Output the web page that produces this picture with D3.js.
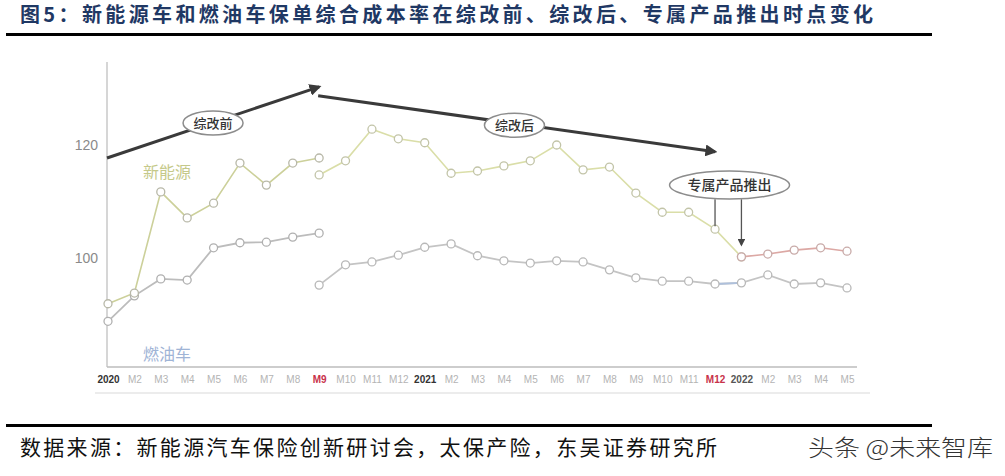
<!DOCTYPE html>
<html><head><meta charset="utf-8">
<script src="https://cdn.jsdelivr.net/npm/d3@7"></script>
<style>
html,body{margin:0;padding:0;background:#fff;}
svg{display:block;}
</style></head>
<body>
<svg id="c" width="1005" height="476"></svg>
<script>
// ---- data ----
const months = ["2020","M2","M3","M4","M5","M6","M7","M8","M9","M10","M11","M12",
                "2021","M2","M3","M4","M5","M6","M7","M8","M9","M10","M11","M12",
                "2022","M2","M3","M4","M5"];
const yTicks = [100, 120];
// 新能源: 综改前 (index 0-8), 综改后 (index 8-24), 专属产品推出后 (index 24-28)
const neBefore = [91.9, 93.8, 111.7, 107.1, 109.7, 116.8, 112.9, 116.8, 117.7];
const neAfter = [114.7, 117.2, 122.8, 121.1, 120.4, 115.0, 115.4, 116.3, 117.2, 120.0, 115.6, 116.1, 111.5, 108.1, 108.1, 105.1, 100.2];
const neExclusive = [100.2, 100.7, 101.4, 101.8, 101.2];
// 燃油车: 综改前 (index 0-8), 综改后 (index 8-28)
const fuelBefore = [88.8, 93.3, 96.3, 96.1, 101.8, 102.7, 102.8, 103.7, 104.4];
const fuelAfter = [95.2, 98.8, 99.3, 100.5, 101.9, 102.5, 100.4, 99.5, 99.1, 99.5, 99.3, 97.9, 96.5, 95.9, 95.9, 95.4, 95.6, 97.0, 95.4, 95.6, 94.7];
const startBefore = 0, startAfter = 8, startExclusive = 24;
const highlightIdx = {0:"year", 12:"year", 24:"year2", 8:"red", 23:"red"};

const titleText = "图5：新能源车和燃油车保单综合成本率在综改前、综改后、专属产品推出时点变化";
const sourceText = "数据来源：新能源汽车保险创新研讨会，太保产险，东吴证券研究所";
const watermark = "头条 @未来智库";

// annotations anchored in data space [index, value]
const arrowPre = [[0, 117.7], [8, 130.3]];
const arrowPost = [[8, 128.7], [23, 118.8]];
const labelPre = {text:"综改前", at:[3.98, 123.9], rx:30, ry:12};
const labelPost = {text:"综改后", at:[15.4, 123.5], rx:30, ry:12};
const labelExcl = {text:"专属产品推出", at:[23.55, 112.9], rx:60, ry:14};
const pointerLines = [{i:23, from:110.4, to:105.6, arrow:false}, {i:24, from:110.4, to:102.3, arrow:true}];

// ---- drawing ----
const svg = d3.select("#c");
const x = d3.scaleLinear().domain([0, 28]).range([108, 847]);
const y = d3.scaleLinear().domain([100, 120]).range([258, 145]);
const yBottom = 367, yTop = 62;

// title
svg.append("text").attr("x", 20).attr("y", 22)
  .attr("textLength", 853).attr("lengthAdjust", "spacing")
  .style("font-family", "'Noto Sans CJK SC', sans-serif").style("font-weight", 700)
  .style("font-size", "20px").style("fill", "#1f3864").text(titleText);
svg.append("rect").attr("x", 6).attr("y", 33).attr("width", 926).attr("height", 3).attr("fill", "#000");

// footer
svg.append("rect").attr("x", 6).attr("y", 424).attr("width", 926).attr("height", 3).attr("fill", "#000");
svg.append("text").attr("x", 20).attr("y", 455)
  .attr("textLength", 697).attr("lengthAdjust", "spacing")
  .style("font-family", "'Noto Sans CJK SC', sans-serif").style("font-weight", 400)
  .style("font-size", "21px").style("fill", "#111").text(sourceText);
svg.append("text").attr("x", 808).attr("y", 456)
  .attr("textLength", 185).attr("lengthAdjust", "spacingAndGlyphs")
  .style("font-family", "'Noto Sans CJK SC', sans-serif").style("font-weight", 300)
  .style("font-size", "23px").style("fill", "#333").text(watermark);

// axes
const g = svg.append("g");
g.append("line").attr("x1", x(0) - 1).attr("x2", x(0) - 1).attr("y1", yTop).attr("y2", yBottom)
  .attr("stroke", "#c8c8c8").attr("stroke-width", 1.5);
g.append("line").attr("x1", x(0) - 1).attr("x2", x(28) + 10).attr("y1", yBottom).attr("y2", yBottom)
  .attr("stroke", "#bdbdbd").attr("stroke-width", 1.5);
g.append("line").attr("x1", 95).attr("x2", 870).attr("y1", 393).attr("y2", 393)
  .attr("stroke", "#ececec").attr("stroke-width", 2);

const yAxis = d3.axisLeft(y).tickValues(yTicks).tickSize(0).tickPadding(0);
const ya = g.append("g").attr("transform", "translate(98,0)").call(yAxis);
ya.select(".domain").remove();
ya.selectAll("text").style("font-family", "'Liberation Sans', Arial, sans-serif")
  .style("font-size", "14px").style("fill", "#8a8a8a");

const xAxis = d3.axisBottom(x).tickValues(d3.range(months.length)).tickFormat(i => months[i]).tickSize(0).tickPadding(0);
const xa = g.append("g").attr("transform", `translate(0,${yBottom + 9})`).call(xAxis);
xa.select(".domain").remove();
xa.selectAll("text")
  .style("font-family", "'Liberation Sans', Arial, sans-serif")
  .style("font-size", "10px")
  .style("font-weight", i => highlightIdx[i] ? 700 : 400)
  .style("fill", i => highlightIdx[i] === "red" ? "#c8324a" : highlightIdx[i] === "year" ? "#333" : highlightIdx[i] === "year2" ? "#555" : "#b4b4b4");

// series
const line = d3.line().x(d => x(d[0])).y(d => y(d[1]));
const toPts = (arr, start) => arr.map((v, k) => [start + k, v]);

function series(arr, start, color, width) {
  const pts = toPts(arr, start);
  g.append("path").attr("d", line(pts)).attr("fill", "none").attr("stroke", color).attr("stroke-width", width);
  return pts;
}
const ptsSets = [];
ptsSets.push([series(fuelBefore, startBefore, "#bcbcbc", 1.8), "#b0b0b0"]);
ptsSets.push([series(fuelAfter, startAfter, "#c4c4c4", 1.8), "#b8b8b8"]);
// bluish link on fuel around the exclusive product launch
g.append("path").attr("d", line(toPts(fuelAfter, startAfter).slice(23 - startAfter, 25 - startAfter)))
  .attr("fill", "none").attr("stroke", "#aec0dc").attr("stroke-width", 1.8);
ptsSets.push([series(neBefore, startBefore, "#ccd09a", 1.6), "#b8b8a8"]);
ptsSets.push([series(neAfter, startAfter, "#dadea8", 1.6), "#c2c4a8"]);
ptsSets.push([series(neExclusive, startExclusive, "#dca8a4", 1.6), "#c8aaa8"]);

ptsSets.forEach(([pts, stroke]) => {
  g.selectAll(null).data(pts).enter().append("circle")
    .attr("cx", d => x(d[0])).attr("cy", d => y(d[1])).attr("r", 4)
    .attr("fill", "#fff").attr("stroke", stroke).attr("stroke-width", 1.3);
});

// series labels
g.append("text").attr("x", 143).attr("y", 178).text("新能源")
  .style("font-family", "'Noto Sans CJK SC', sans-serif").style("font-size", "16px").style("fill", "#c5c98a");
g.append("text").attr("x", 143).attr("y", 360).text("燃油车")
  .style("font-family", "'Noto Sans CJK SC', sans-serif").style("font-size", "16px").style("fill", "#9fb4d6");

// arrows
const defs = svg.append("defs");
defs.append("marker").attr("id", "ah").attr("viewBox", "0 0 10 10").attr("refX", 8).attr("refY", 5)
  .attr("markerWidth", 4).attr("markerHeight", 4).attr("orient", "auto")
  .append("path").attr("d", "M0,0 L10,5 L0,10 z").attr("fill", "#3a3a3a");
defs.append("marker").attr("id", "ah2").attr("viewBox", "0 0 10 10").attr("refX", 8).attr("refY", 5)
  .attr("markerWidth", 6).attr("markerHeight", 6).attr("orient", "auto")
  .append("path").attr("d", "M0,0 L10,5 L0,10 z").attr("fill", "#444");

[arrowPre, arrowPost].forEach(a => {
  g.append("line").attr("x1", x(a[0][0]) - 1).attr("y1", y(a[0][1])).attr("x2", x(a[1][0])).attr("y2", y(a[1][1]))
    .attr("stroke", "#3a3a3a").attr("stroke-width", 3).attr("marker-end", "url(#ah)");
});
pointerLines.forEach(p => {
  g.append("line").attr("x1", x(p.i)).attr("x2", x(p.i)).attr("y1", y(p.from)).attr("y2", y(p.to))
    .attr("stroke", "#555").attr("stroke-width", 1.3).attr("marker-end", p.arrow ? "url(#ah2)" : null);
});
[labelPre, labelPost, labelExcl].forEach(l => {
  const cx = x(l.at[0]), cy = y(l.at[1]);
  g.append("ellipse").attr("cx", cx).attr("cy", cy).attr("rx", l.rx).attr("ry", l.ry)
    .attr("fill", "#fff").attr("stroke", "#8c8c8c").attr("stroke-width", 1.5);
  g.append("text").attr("x", cx).attr("y", cy + 5).attr("text-anchor", "middle").text(l.text)
    .style("font-family", "'Noto Sans CJK SC', sans-serif").style("font-size", l.rx > 40 ? "14px" : "13px")
    .style("font-weight", 500).style("fill", "#333");
});
</script>
</body></html>
